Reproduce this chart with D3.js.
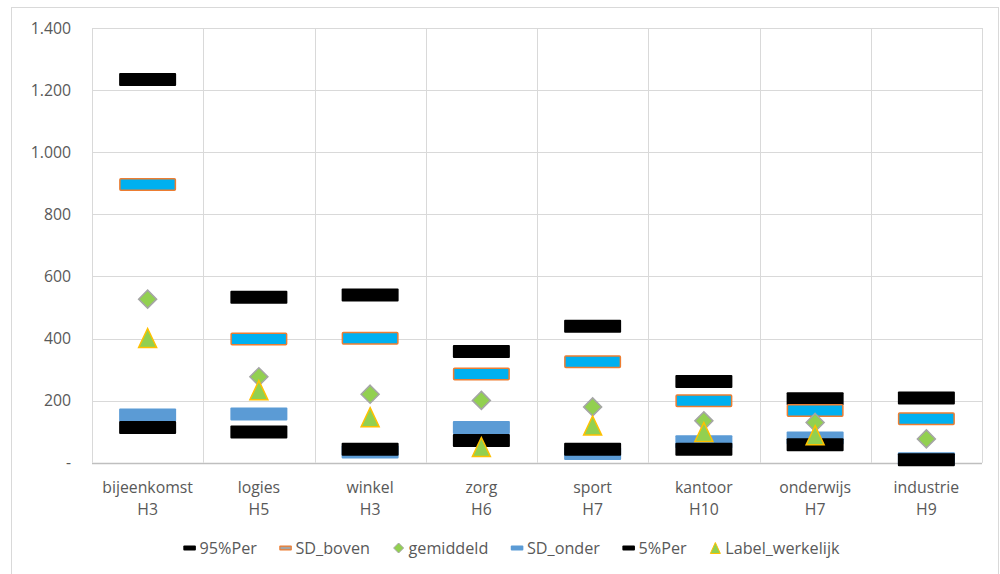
<!DOCTYPE html>
<html>
<head>
<meta charset="utf-8">
<script src="https://cdn.jsdelivr.net/npm/d3@7"></script>
<style>
  html, body { margin: 0; padding: 0; background: #fff; }
  svg { display: block; font-family: "Open Sans", "Liberation Sans", sans-serif; }
</style>
</head>
<body>
<svg id="chart" width="1000" height="574"></svg>
<script>
// Energy-use bands per building function (percentiles, SD band, mean, actual label value)
const categories = ["bijeenkomst", "logies", "winkel", "zorg", "sport", "kantoor", "onderwijs", "industrie"];
const subLabels  = ["H3", "H5", "H3", "H6", "H7", "H10", "H7", "H9"];
const p95        = [1234, 533, 540, 358, 440, 262, 206, 209];
const sdBoven    = [896, 399, 401, 286, 325, 200, 168, 142];
const gemiddeld  = [527, 277, 221, 201, 180, 135, 130, 77];
const sdOnder    = [154, 157, 35, 114, 30, 68, 80, 13];
const p5         = [114, 99, 44, 72, 44, 44, 58, 10];
const werkelijk  = [402, 234, 147, 51, 120, 99, 89, null];
const yTicks     = [0, 200, 400, 600, 800, 1000, 1200, 1400];

const svg = d3.select("#chart");
const plot = { left: 92, right: 982, top: 28, bottom: 462.8 };

const x = d3.scaleBand().domain(categories).range([plot.left, plot.right]).padding(0);
const y = d3.scaleLinear().domain([0, 1400]).range([plot.bottom, plot.top]);

const grid = "#d9d9d9";
const textColor = "#595959";

// outer chart frame
svg.append("rect")
  .attr("x", 11.5).attr("y", 7.5).attr("width", 987).attr("height", 580)
  .attr("fill", "none").attr("stroke", grid).attr("stroke-width", 1);

// horizontal gridlines
svg.append("g").selectAll("line").data(yTicks).join("line")
  .attr("x1", plot.left).attr("x2", plot.right)
  .attr("y1", d => Math.round(y(d)) + 0.5).attr("y2", d => Math.round(y(d)) + 0.5)
  .attr("stroke", d => d === 0 ? "#bfbfbf" : grid)
  .attr("stroke-width", d => d === 0 ? 1.5 : 1);

// vertical category separators
const bounds = categories.map(c => x(c)).concat([plot.right]);
svg.append("g").selectAll("line").data(bounds).join("line")
  .attr("x1", d => Math.round(d) + 0.5).attr("x2", d => Math.round(d) + 0.5)
  .attr("y1", plot.top).attr("y2", plot.bottom)
  .attr("stroke", grid).attr("stroke-width", 1);

// y axis labels
const nl = d3.formatLocale({ decimal: ",", thousands: ".", grouping: [3], currency: ["€", ""] });
const fmt = nl.format(",");
const yAxis = d3.axisLeft(y).tickValues(yTicks).tickSize(0).tickPadding(0)
  .tickFormat(d => d === 0 ? "-" : fmt(d));
const yg = svg.append("g").attr("transform", "translate(71,0)").call(yAxis);
yg.select(".domain").remove();
yg.selectAll("text").attr("fill", textColor).attr("font-size", "15.8px")
  .attr("font-family", "'Open Sans', sans-serif");

// category labels (two lines)
const xl = svg.append("g");
categories.forEach((c, i) => {
  const cx = x(c) + x.bandwidth() / 2;
  const t = xl.append("text").attr("text-anchor", "middle").attr("fill", textColor)
    .attr("font-size", "15.8px");
  t.append("tspan").attr("x", cx).attr("y", 492.5).text(c);
  t.append("tspan").attr("x", cx).attr("y", 515).text(subLabels[i]);
});

// marker helpers
const dashW = 57, dashH = 13;
function dashes(values, fill, stroke) {
  const sw = stroke ? 1.5 : 0;
  svg.append("g").selectAll("rect")
    .data(values.map((v, i) => ({ v, c: categories[i] })).filter(d => d.v != null))
    .join("rect")
    .attr("x", d => x(d.c) + x.bandwidth() / 2 - dashW / 2 + sw / 2)
    .attr("y", d => y(d.v) - dashH / 2 + sw / 2)
    .attr("width", dashW - sw).attr("height", dashH - sw)
    .attr("rx", 1)
    .attr("fill", fill)
    .attr("stroke", stroke || "none").attr("stroke-width", sw);
}
const diamondPath = "M0,-9L9,0L0,9L-9,0Z";
const trianglePath = "M0,-9.5L9,9.5L-9,9.5Z";
function points(values, path, fill, stroke) {
  svg.append("g").selectAll("path")
    .data(values.map((v, i) => ({ v, c: categories[i] })).filter(d => d.v != null))
    .join("path")
    .attr("transform", d => `translate(${x(d.c) + x.bandwidth() / 2},${y(d.v)})`)
    .attr("d", path)
    .attr("fill", fill).attr("stroke", stroke).attr("stroke-width", 1.5)
    .attr("stroke-linejoin", "miter");
}

// series in drawing order
dashes(p95, "#000000");
dashes(sdBoven, "#00B0F0", "#ED7D31");
points(gemiddeld, diamondPath, "#92D050", "#A5A5A5");
dashes(sdOnder, "#5B9BD5");
dashes(p5, "#000000");
points(werkelijk, trianglePath, "#92D050", "#FFC000");

// legend
const legendItems = [
  { name: "95%Per", type: "dash", fill: "#000000" },
  { name: "SD_boven", type: "dash", fill: "#00B0F0", stroke: "#ED7D31" },
  { name: "gemiddeld", type: "diamond", fill: "#92D050", stroke: "#A5A5A5" },
  { name: "SD_onder", type: "dash", fill: "#5B9BD5" },
  { name: "5%Per", type: "dash", fill: "#000000" },
  { name: "Label_werkelijk", type: "triangle", fill: "#92D050", stroke: "#FFC000" }
];
const lg = svg.append("g");
const ly = 548;
let lx = 183.3;
legendItems.forEach(item => {
  const g = lg.append("g");
  const mc = lx + 6.3;
  if (item.type === "dash") {
    g.append("rect").attr("x", lx).attr("y", ly - 2.5).attr("width", 12.6).attr("height", 5)
      .attr("rx", 1).attr("fill", item.stroke || item.fill);
    if (item.stroke) {
      g.append("rect").attr("x", lx + 1.2).attr("y", ly - 1.2).attr("width", 10.2).attr("height", 2.4)
        .attr("fill", "#A5A5A5");
    }
  } else if (item.type === "diamond") {
    g.append("path").attr("transform", `translate(${mc},${ly})`).attr("d", "M0,-5L5,0L0,5L-5,0Z")
      .attr("fill", item.fill).attr("stroke", item.stroke).attr("stroke-width", 1);
  } else {
    g.append("path").attr("transform", `translate(${mc},${ly})`).attr("d", "M0,-5.5L5,5.5L-5,5.5Z")
      .attr("fill", item.fill).attr("stroke", item.stroke).attr("stroke-width", 1);
  }
  const t = g.append("text").attr("x", lx + 16.2).attr("y", ly + 5.8)
    .attr("fill", textColor).attr("font-size", "16.2px").text(item.name);
  lx = lx + 16.2 + t.node().getComputedTextLength() + 22.4;
});
</script>
</body>
</html>
